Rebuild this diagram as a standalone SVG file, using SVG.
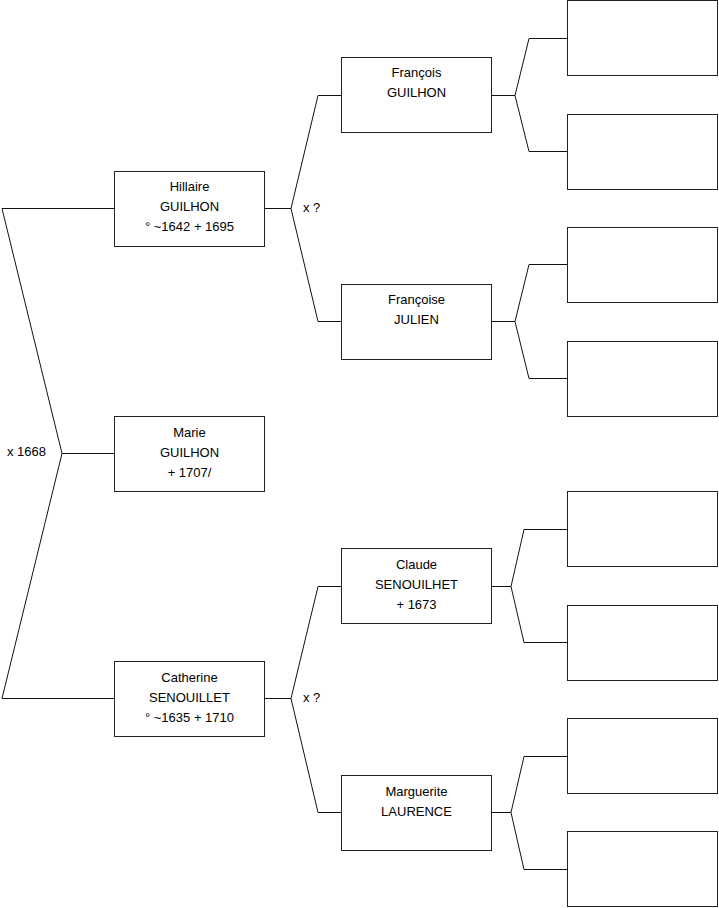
<svg xmlns="http://www.w3.org/2000/svg" width="719" height="908" viewBox="0 0 719 908">
<style>
.box{fill:#fff;stroke:#222;stroke-width:1}
.ln{fill:none;stroke:#111;stroke-width:1}
text{font-family:"Liberation Sans",Arial,sans-serif;font-size:13px;fill:#000}
.c{text-anchor:middle}
</style>
<rect width="719" height="908" fill="#fff"/>
<g id="connectors">
<polyline class="ln" points="114,208.5 2,208.5 62,453.5 2,698.5 114,698.5"/>
<line class="ln" x1="62" y1="453.5" x2="114" y2="453.5"/>
<polyline class="ln" points="341,95.5 318,95.5 291,208.5 318,321.5 341,321.5"/>
<line class="ln" x1="265" y1="208.5" x2="291" y2="208.5"/>
<polyline class="ln" points="341,586.5 318,586.5 291,698.5 318,812.5 341,812.5"/>
<line class="ln" x1="265" y1="698.5" x2="291" y2="698.5"/>
<polyline class="ln" points="567,38.5 529,38.5 515,95.5 529,151.5 567,151.5"/>
<line class="ln" x1="492" y1="95.5" x2="515" y2="95.5"/>
<polyline class="ln" points="567,264.5 529,264.5 515,321.5 529,378.5 567,378.5"/>
<line class="ln" x1="492" y1="321.5" x2="515" y2="321.5"/>
<polyline class="ln" points="567,529.5 524,529.5 511,586.5 524,642.5 567,642.5"/>
<line class="ln" x1="492" y1="586.5" x2="511" y2="586.5"/>
<polyline class="ln" points="567,756.5 524,756.5 511,812.5 524,869.5 567,869.5"/>
<line class="ln" x1="492" y1="812.5" x2="511" y2="812.5"/>
<text x="7" y="456">x 1668</text>
<text x="303" y="212">x ?</text>
<text x="303" y="702">x ?</text>
</g>
<g id="hillaire"><rect class="box" x="114.5" y="171.5" width="150" height="75"/>
<text class="c" x="189.5" y="191">Hillaire</text><text class="c" x="189.5" y="211">GUILHON</text><text class="c" x="189.5" y="231">° ~1642 + 1695</text></g>
<g id="marie"><rect class="box" x="114.5" y="416.5" width="150" height="75"/>
<text class="c" x="189.5" y="437">Marie</text><text class="c" x="189.5" y="457">GUILHON</text><text class="c" x="189.5" y="477">+ 1707/</text></g>
<g id="catherine"><rect class="box" x="114.5" y="661.5" width="150" height="75"/>
<text class="c" x="189.5" y="682">Catherine</text><text class="c" x="189.5" y="702">SENOUILLET</text><text class="c" x="189.5" y="722">° ~1635 + 1710</text></g>
<g id="francois"><rect class="box" x="341.5" y="57.5" width="150" height="75"/>
<text class="c" x="416.5" y="77">François</text><text class="c" x="416.5" y="97">GUILHON</text></g>
<g id="francoise"><rect class="box" x="341.5" y="284.5" width="150" height="75"/>
<text class="c" x="416.5" y="304">Françoise</text><text class="c" x="416.5" y="324">JULIEN</text></g>
<g id="claude"><rect class="box" x="341.5" y="548.5" width="150" height="75"/>
<text class="c" x="416.5" y="569">Claude</text><text class="c" x="416.5" y="589">SENOUILHET</text><text class="c" x="416.5" y="609">+ 1673</text></g>
<g id="marguerite"><rect class="box" x="341.5" y="775.5" width="150" height="75"/>
<text class="c" x="416.5" y="796">Marguerite</text><text class="c" x="416.5" y="816">LAURENCE</text></g>
<g id="g3a"><rect class="box" x="567.5" y="0.5" width="150" height="75"/></g>
<g id="g3b"><rect class="box" x="567.5" y="114.5" width="150" height="75"/></g>
<g id="g3c"><rect class="box" x="567.5" y="227.5" width="150" height="75"/></g>
<g id="g3d"><rect class="box" x="567.5" y="341.5" width="150" height="75"/></g>
<g id="g3e"><rect class="box" x="567.5" y="491.5" width="150" height="75"/></g>
<g id="g3f"><rect class="box" x="567.5" y="605.5" width="150" height="75"/></g>
<g id="g3g"><rect class="box" x="567.5" y="718.5" width="150" height="75"/></g>
<g id="g3h"><rect class="box" x="567.5" y="831.5" width="150" height="75"/></g>
</svg>
